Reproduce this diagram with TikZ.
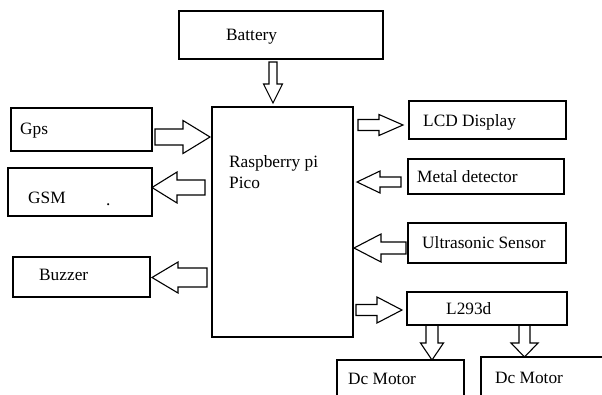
\documentclass[tikz,border=0pt]{standalone}
\usepackage{fontspec}
\setmainfont{Liberation Serif}
\newcommand\hblk[6]{\draw[arr] (#1,#4-#5) -- (#2,#4-#5) -- (#2,#4-#6) -- (#3,#4) -- (#2,#4+#6) -- (#2,#4+#5) -- (#1,#4+#5) -- cycle;}
\newcommand\vblk[6]{\draw[arr] (#4-#5,#1) -- (#4-#5,#2) -- (#4-#6,#2) -- (#4,#3) -- (#4+#6,#2) -- (#4+#5,#2) -- (#4+#5,#1) -- cycle;}
\begin{document}
\begin{tikzpicture}[x=1pt,y=-1pt,
  box/.style={draw, line width=1.3pt, inner sep=0pt},
  lbl/.style={inner sep=0pt, anchor=base west, font=\fontsize{17.3}{20.5}\selectfont},
  arr/.style={draw, line width=1.1pt, line join=miter}]
\useasboundingbox (0,0) rectangle (602,394);
\clip (0,0) rectangle (602,394);
% boxes
\node[box, minimum width=204pt, minimum height=48pt] (battery) at (281,35) {};
\node[box, minimum width=141pt, minimum height=230pt] (pico) at (282.5,222) {};
\node[box, minimum width=141pt, minimum height=43pt] (gps) at (81.5,129.5) {};
\node[box, minimum width=144pt, minimum height=48pt] (gsm) at (80,192) {};
\node[box, minimum width=137pt, minimum height=40pt] (buzzer) at (81.5,277) {};
\node[box, minimum width=157pt, minimum height=38pt] (lcd) at (487.5,120) {};
\node[box, minimum width=156pt, minimum height=35pt] (metal) at (486,176.5) {};
\node[box, minimum width=158pt, minimum height=40pt] (ultra) at (487,243) {};
\node[box, minimum width=160pt, minimum height=33pt] (l293) at (487,308.5) {};
\node[box, minimum width=127pt, minimum height=80pt] (dcone) at (400.5,400) {};
\node[box, minimum width=179pt, minimum height=80pt] (dctwo) at (570.5,397) {};
% labels
\node[lbl] (batteryt) at (226,40) {Battery};
\node[lbl] (picot) at (229,167) {Raspberry pi};
\node[lbl] (picotb) at (229,188) {Pico};
\node[lbl] (gpst) at (20,134) {Gps};
\node[lbl] (gsmt) at (28,203) {GSM};
\node[lbl] (gsmdot) at (106,205) {.};
\node[lbl] (buzzert) at (39,280) {Buzzer};
\node[lbl] (lcdt) at (423,126) {LCD Display};
\node[lbl] (metalt) at (417,182) {Metal detector};
\node[lbl] (ultrat) at (422,248) {Ultrasonic Sensor};
\node[lbl] (l293t) at (446,314) {L293d};
\node[lbl] (dconet) at (348,384) {Dc Motor};
\node[lbl] (dctwot) at (495,383) {Dc Motor};
% block arrows
\vblk{62}{84}{103}{273}{4}{9.5}
\hblk{155}{183}{210}{137}{8}{16.5}
\hblk{205}{177}{152}{187.5}{7.5}{15.5}
\hblk{207}{178}{152}{277.5}{9.5}{15.5}
\hblk{358}{379}{403}{125}{5.5}{10.5}
\hblk{401}{380}{357}{182}{5}{11}
\hblk{406}{381}{354}{248}{6}{14}
\hblk{356}{377}{402}{310}{5.5}{13}
\vblk{325}{343}{360}{432}{6}{11.5}
\vblk{325}{343}{357}{524.5}{5.5}{13.5}
\end{tikzpicture}
\end{document}
